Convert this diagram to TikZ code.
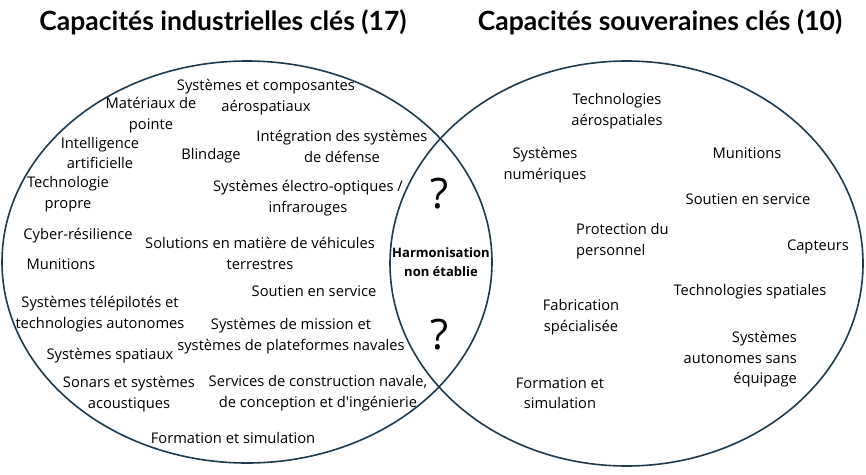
\documentclass[tikz,border=0pt]{standalone}
\usepackage{fontspec}
\setmainfont{Open Sans}
\newfontfamily\titlefont{Lato}
\usetikzlibrary{shapes.geometric}

\definecolor{ringblue}{HTML}{1F3A4D}

\begin{document}
\begin{tikzpicture}[
  x=1pt, y=-1pt,
  ring/.style={
    ellipse, draw=ringblue, line width=1.6pt, inner sep=0pt
  },
  item/.style={
    font=\fontsize{14.7}{20.5}\selectfont, align=center, inner sep=0pt,
    yshift=-1.2pt
  },
  titre/.style={
    font=\titlefont\bfseries\fontsize{26.5}{30}\selectfont, inner sep=0pt
  },
  harmo/.style={
    font=\bfseries\fontsize{13}{19}\selectfont, align=center, inner sep=0pt
  },
  quest/.style={font=\fontsize{42}{42}\selectfont, inner sep=0pt}
]
\useasboundingbox (0,0) rectangle (866,474);

% -- Ellipses --
\node[ring, minimum width=490pt, minimum height=402pt] (indus) at (247,262) {};
\node[ring, minimum width=473pt, minimum height=405pt] (souv)  at (626.5,263.5) {};

% -- Titres --
\node[titre] (t1) at (223,22) {Capacités industrielles clés (17)};
\node[titre] (t2) at (660,22) {Capacités souveraines clés (10)};

% -- Capacités industrielles --
\node[item] (i1)  at (266, 96)  {Systèmes et composantes\\aérospatiaux};
\node[item] (i2)  at (151,114)  {Matériaux de\\pointe};
\node[item] (i3)  at (100,152)  {Intelligence\\artificielle};
\node[item] (i4)  at (211,154)  {Blindage};
\node[item] (i5)  at (342,145)  {Intégration des systèmes\\de défense};
\node[item] (i6)  at ( 68,193)  {Technologie\\propre};
\node[item] (i7)  at (308,197)  {Systèmes électro-optiques /\\infrarouges};
\node[item] (i8)  at ( 78,234)  {Cyber-résilience};
\node[item] (i9)  at (260,252)  {Solutions en matière de véhicules\\terrestres};
\node[item] (i10) at ( 61,263)  {Munitions};
\node[item] (i11) at (314,290)  {Soutien en service};
\node[item] (i12) at (100,313)  {Systèmes télépilotés et\\technologies autonomes};
\node[item] (i13) at (291,335)  {Systèmes de mission et\\systèmes de plateformes navales};
\node[item] (i14) at (110,354)  {Systèmes spatiaux};
\node[item] (i15) at (129,393)  {Sonars et systèmes\\acoustiques};
\node[item] (i16) at (318,392)  {Services de construction navale,\\de conception et d\textquotesingle ingénierie};
\node[item] (i17) at (233,437)  {Formation et simulation};

% -- Intersection --
\node[quest] (q1) at (440,194) {?};
\node[harmo] (h)  at (441,262) {Harmonisation\\non établie};
\node[quest] (q2) at (440,335) {?};

% -- Capacités souveraines --
\node[item] (s1)  at (617,110)  {Technologies\\aérospatiales};
\node[item] (s2)  at (545,164)  {Systèmes\\numériques};
\node[item] (s3)  at (747,152)  {Munitions};
\node[item] (s4)  at (748,198)  {Soutien en service};
\node[item, align=left, anchor=west] (s5) at (576,240) {Protection du\\personnel};
\node[item] (s6)  at (818,246)  {Capteurs};
\node[item] (s7)  at (750,290)  {Technologies spatiales};
\node[item] (s8)  at (581,316)  {Fabrication\\spécialisée};
\node[item, align=right, anchor=east] (s9) at (797,358) {Systèmes\\autonomes sans\\équipage};
\node[item] (s10) at (560,392)  {Formation et\\simulation};

\end{tikzpicture}
\end{document}
